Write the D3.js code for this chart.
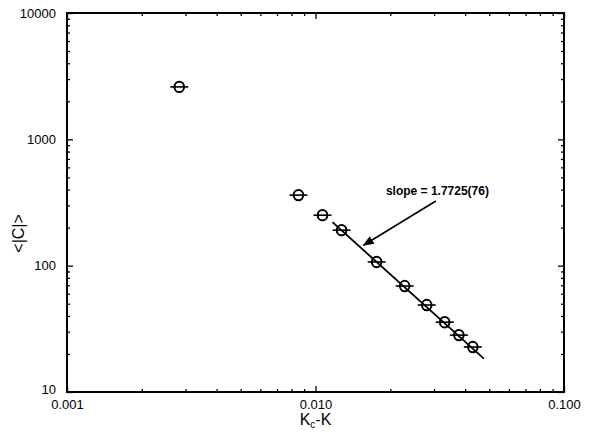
<!DOCTYPE html>
<html>
<head>
<meta charset="utf-8">
<script src="https://cdn.jsdelivr.net/npm/d3@7"></script>
<style>
  body { margin: 0; background: #fff; }
  svg { display: block; font-family: "Liberation Sans", Arial, sans-serif; }
  .tick text { font-size: 13px; fill: #000; }
</style>
</head>
<body>
<svg id="chart" width="593" height="432"></svg>
<script>
// data
const kDiff = [0.00283, 0.00854, 0.01067, 0.01273, 0.01762, 0.02285, 0.02803, 0.0331, 0.03775, 0.04296];
const meanC = [2600, 362, 251, 191, 107, 69, 48.8, 35.7, 28.2, 22.7];

// fitted power law <|C|> = amp * (Kc-K)^-slope
const fitSlope = 1.7725;
const fitAmp = 0.0832;
const fitRange = [0.0117, 0.0476];

const xTickVals = [0.001, 0.01, 0.1];
const xTickLabels = ["0.001", "0.010", "0.100"];
const yTickVals = [10, 100, 1000, 10000];
const yTickLabels = ["10", "100", "1000", "10000"];

const slopeLabel = "slope = 1.7725(76)";
const labelPos = [0.0192, 360];
const arrowFrom = [0.0305, 325];
const arrowTo = [0.0156, 145];

const svg = d3.select("#chart");
const margin = { top: 13, right: 29, bottom: 40, left: 67 };
const width = 593 - margin.left - margin.right;
const height = 432 - margin.top - margin.bottom;

const x = d3.scaleLog().domain([0.001, 0.1]).range([0, width]);
const y = d3.scaleLog().domain([10, 10000]).range([height, 0]);

const g = svg.append("g").attr("transform", `translate(${margin.left},${margin.top})`);

// minor ticks 2..9 in every decade
function minors(lo, hi) {
  const out = [];
  for (let d = lo; d < hi; d *= 10)
    for (let m = 2; m <= 9; m++) out.push(d * m);
  return out;
}
const xMinor = minors(0.001, 0.1);
const yMinor = minors(10, 10000);

function styleAxis(sel) {
  sel.select(".domain").remove();
  sel.selectAll("line").attr("stroke", "#000").attr("stroke-width", 1.3);
}

// bottom
g.append("g").attr("transform", `translate(0,${height})`)
  .call(d3.axisBottom(x).tickValues(xMinor).tickSize(-3).tickFormat(""))
  .call(styleAxis);
g.append("g").attr("transform", `translate(0,${height})`)
  .call(d3.axisBottom(x).tickValues(xTickVals).tickSize(-6).tickPadding(8)
    .tickFormat((d, i) => xTickLabels[i]))
  .call(styleAxis);
// top
g.append("g")
  .call(d3.axisTop(x).tickValues(xMinor).tickSize(-3).tickFormat(""))
  .call(styleAxis);
g.append("g")
  .call(d3.axisTop(x).tickValues(xTickVals).tickSize(-6).tickFormat(""))
  .call(styleAxis);
// left
g.append("g")
  .call(d3.axisLeft(y).tickValues(yMinor).tickSize(-3).tickFormat(""))
  .call(styleAxis);
const yAx = g.append("g")
  .call(d3.axisLeft(y).tickValues(yTickVals).tickSize(-6).tickPadding(11)
    .tickFormat((d, i) => yTickLabels[i]))
  .call(styleAxis);
// lowest label sits a little above the corner
yAx.selectAll(".tick text").filter(d => d === 10).attr("dy", "0.1em");
// right
g.append("g").attr("transform", `translate(${width},0)`)
  .call(d3.axisRight(y).tickValues(yMinor).tickSize(-3).tickFormat(""))
  .call(styleAxis);
g.append("g").attr("transform", `translate(${width},0)`)
  .call(d3.axisRight(y).tickValues(yTickVals).tickSize(-6).tickFormat(""))
  .call(styleAxis);

// frame
g.append("rect")
  .attr("width", width).attr("height", height)
  .attr("fill", "none").attr("stroke", "#000").attr("stroke-width", 2);

// fit line
const fitPts = fitRange.map(k => [k, fitAmp * Math.pow(k, -fitSlope)]);
g.append("path")
  .datum(fitPts)
  .attr("d", d3.line().x(d => x(d[0])).y(d => y(d[1])))
  .attr("stroke", "#000").attr("stroke-width", 1.8).attr("fill", "none");

// points with horizontal bars
const pts = g.append("g").selectAll("g")
  .data(kDiff.map((k, i) => ({ k, c: meanC[i] })))
  .join("g")
  .attr("transform", d => `translate(${x(d.k)},${y(d.c)})`);
pts.append("line")
  .attr("x1", -9).attr("x2", 9)
  .attr("stroke", "#000").attr("stroke-width", 1.6);
pts.append("ellipse")
  .attr("rx", 4.8).attr("ry", 5.2)
  .attr("fill", "none").attr("stroke", "#000").attr("stroke-width", 2);

// annotation
svg.append("defs").append("marker")
  .attr("id", "head")
  .attr("viewBox", "0 0 10 10")
  .attr("refX", 9).attr("refY", 5)
  .attr("markerWidth", 7).attr("markerHeight", 7)
  .attr("orient", "auto")
  .append("path").attr("d", "M0,1 L10,5 L0,9 Z").attr("fill", "#000");

g.append("line")
  .attr("x1", x(arrowFrom[0])).attr("y1", y(arrowFrom[1]))
  .attr("x2", x(arrowTo[0])).attr("y2", y(arrowTo[1]))
  .attr("stroke", "#000").attr("stroke-width", 1.6)
  .attr("marker-end", "url(#head)");

g.append("text")
  .attr("x", x(labelPos[0])).attr("y", y(labelPos[1]))
  .attr("font-size", 12).attr("font-weight", "bold").attr("fill", "#000")
  .text(slopeLabel);

// axis titles
const xt = svg.append("text")
  .attr("x", margin.left + x(0.01)).attr("y", 425)
  .attr("text-anchor", "middle").attr("font-size", 16).attr("fill", "#000");
xt.append("tspan").text("K");
xt.append("tspan").attr("font-size", 10).attr("dy", 3).text("c");
xt.append("tspan").attr("dy", -3).text("-K");

svg.append("text")
  .attr("transform", `translate(24,${margin.top + y(180)}) rotate(-90)`)
  .attr("text-anchor", "middle").attr("font-size", 16).attr("fill", "#000")
  .text("<|C|>");
</script>
</body>
</html>
